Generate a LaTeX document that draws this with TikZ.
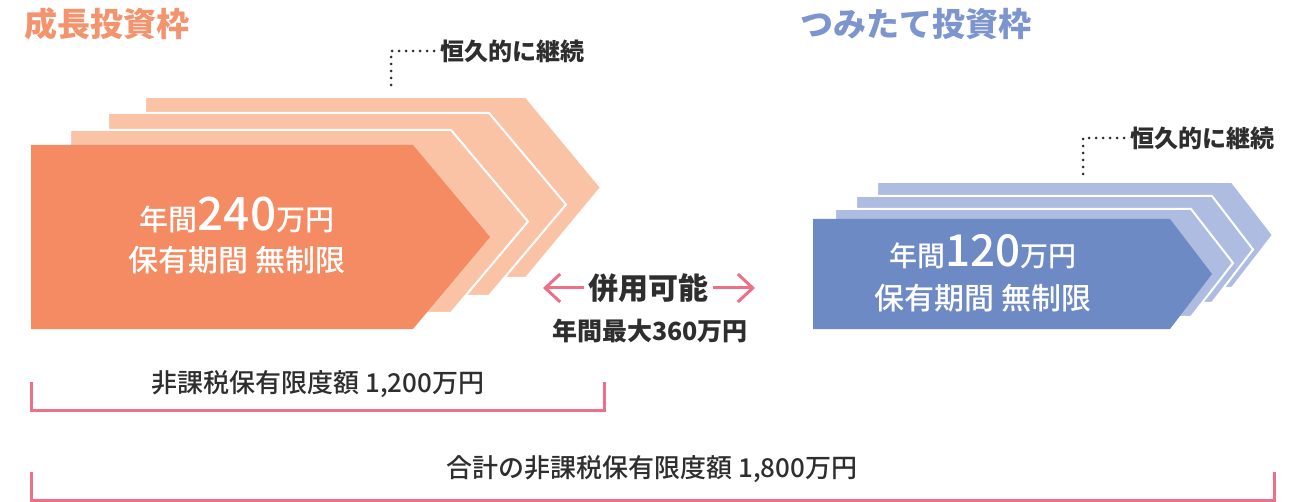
\documentclass[tikz,border=0pt]{standalone}
\usepackage{fontspec}
\setmainfont{Noto Sans CJK JP}
\IfFontExistsTF{Noto Sans CJK JP Medium}
  {\newfontfamily\medfont{Noto Sans CJK JP Medium}}
  {\newcommand{\medfont}{\bfseries}}
\usetikzlibrary{arrows.meta}
\definecolor{orfront}{HTML}{F48B63}
\definecolor{orback}{HTML}{FAC3A6}
\definecolor{blfront}{HTML}{6D8AC5}
\definecolor{blback}{HTML}{ADBCE0}
\definecolor{ortitle}{HTML}{F3946E}
\definecolor{bltitle}{HTML}{7D95CF}
\definecolor{pinkline}{HTML}{EE7088}
\definecolor{ink}{HTML}{2E2E2E}
\newcommand{\fsz}[1]{\fontsize{#1}{#1}\selectfont}
% style, left, top, shoulder, tip, bottom
\newcommand{\chevpath}[6]{\path[#1] (#2,#3) -- (#4,#3) -- (#5,{(#3+#6)/2}) -- (#4,#6) -- (#2,#6) -- cycle;}
\begin{document}
\begin{tikzpicture}[x=1pt,y=-1pt,
  chevback/.style={fill=#1, draw=white, line width=2pt},
  chevfront/.style={fill=#1},
  ttl/.style={font=\bfseries\fsz{33}, anchor=base west, inner sep=0pt},
  notetext/.style={font=\bfseries\fsz{24}, text=ink, inner sep=0pt},
  dotline/.style={draw=ink, line width=3pt, line cap=round, dash pattern=on 0pt off 7pt},
  boxtext/.style={text=white, anchor=base, inner sep=0pt},
  bracketline/.style={draw=pinkline, line width=3pt},
  pinkarrow/.style={draw=pinkline, line width=3pt, -{Straight Barb[length=15pt,width=28pt]}},
  limtext/.style={font=\medfont\fsz{26}, text=ink, inner sep=0pt}
]
\useasboundingbox (0,0) rectangle (1316,502);

% titles
\node[ttl, text=ortitle] (t1) at (24,37) {成長投資枠};
\node[ttl, text=bltitle] (t2) at (800,37) {つみたて投資枠};

% orange chevrons
\chevpath{chevback=orback}{145}{97}{526}{601}{278}
\chevpath{chevback=orback}{108}{113}{489}{566}{296}
\chevpath{chevback=orback}{70}{130}{451}{528}{313}
\chevpath{chevfront=orfront}{31}{145}{413}{490}{329}

\node[boxtext] (o1) at (237,231) {\medfont\fsz{29}年間\fsz{46}240\fsz{29}万円};
\node[boxtext] (o2) at (237,272) {\medfont\fsz{30}保有期間 無制限};

% blue chevrons
\chevpath{chevback=blback}{877}{182}{1232}{1273}{288}
\chevpath{chevback=blback}{856}{196}{1212}{1253}{303}
\chevpath{chevback=blback}{835}{209}{1191}{1233}{317}
\chevpath{chevfront=blfront}{813}{219}{1170}{1212}{329}

\node[boxtext] (b1) at (983,267) {\medfont\fsz{28}年間\fsz{44}120\fsz{28}万円};
\node[boxtext] (b2) at (983,310) {\medfont\fsz{30}保有期間 無制限};

% eternal notes
\node[notetext, anchor=west] (k1) at (440,51) {恒久的に継続};
\coordinate (k1d) at (391,91);
\draw[dotline] (k1.west) ++(-6,0) -| (k1d);
\node[notetext, anchor=west] (k2) at (1130,138) {恒久的に継続};
\coordinate (k2d) at (1083,178);
\draw[dotline] (k2.west) ++(-6,0) -| (k2d);

% combined use
\node[font=\bfseries\fsz{30}, text=ink, inner sep=4pt] (ky) at (648.5,288) {併用可能};
\coordinate (arrL) at (543,288);
\coordinate (arrR) at (755,288);
\draw[pinkarrow] (ky.west) -- (arrL);
\draw[pinkarrow] (ky.east) -- (arrR);
\node[font=\bfseries\fsz{25}, text=ink, inner sep=0pt] (mx) at (650,331) {年間最大360万円};

% brackets
\node[limtext] (l1) at (318,384) {非課税保有限度額 1,200万円};
\coordinate (p1a) at (31,382);
\coordinate (p1b) at (31,410.5);
\coordinate (p1c) at (604,410.5);
\coordinate (p1d) at (604,382);
\draw[bracketline] (p1a) -- (p1b) -- (p1c) -- (p1d);

\node[limtext] (l2) at (652,469) {合計の非課税保有限度額 1,800万円};
\coordinate (p2a) at (31,472);
\coordinate (p2b) at (31,500);
\coordinate (p2c) at (1274,500);
\coordinate (p2d) at (1274,472);
\draw[bracketline] (p2a) -- (p2b) -- (p2c) -- (p2d);
\end{tikzpicture}
\end{document}
